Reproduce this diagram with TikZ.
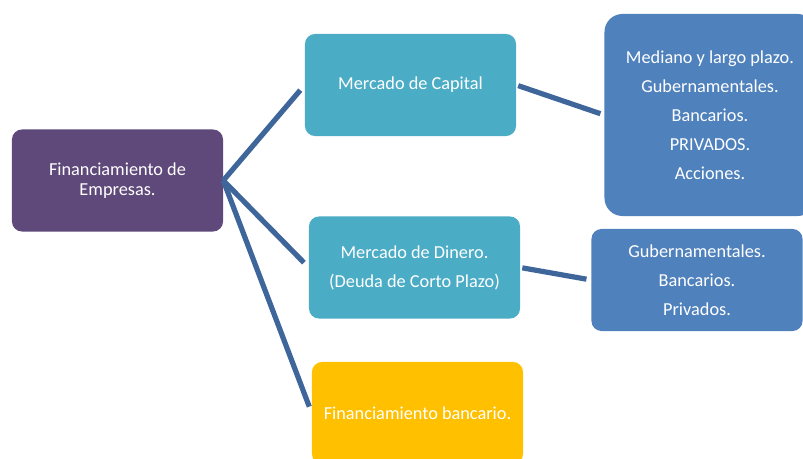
\documentclass[tikz,border=0pt]{standalone}
\usepackage{fontspec}
\setmainfont{Carlito}
\definecolor{morado}{HTML}{5F497A}
\definecolor{turquesa}{HTML}{4BACC6}
\definecolor{azul}{HTML}{4F81BD}
\definecolor{ambar}{HTML}{FFC000}
\definecolor{linea}{RGB}{62,102,155}

\tikzset{
  caja/.style={rounded corners=0.25cm, text=white, align=center,
    minimum width=5.275cm, minimum height=2.55cm, inner sep=0pt,
    font=\fontsize{13}{20.6}\selectfont},
  rama/.style={draw=linea, line width=0.13cm, shorten >=0.17cm}
}

\begin{document}
\begin{tikzpicture}[x=0.025cm, y=-0.025cm]
  \clip (0,0) rectangle (803,459);
  \fill[white] (0,0) rectangle (803,459);
  \node[caja, fill=morado, font=\fontsize{13}{14.5}\selectfont] (fin) at (117.5,180.5) {Financiamiento de\\Empresas.};
  \node[caja, fill=turquesa] (capital) at (410.5,85) {Mercado de Capital};
  \node[caja, fill=turquesa] (dinero) at (414.5,267.5) {Mercado de Dinero.\\(Deuda de Corto Plazo)};
  \node[caja, fill=ambar] (bancario) at (417.5,413) {Financiamiento bancario.};
  \node[caja, fill=azul, rounded corners=0.45cm, minimum height=5.05cm] (capdet) at (710,115)
    {Mediano y largo plazo.\\Gubernamentales.\\Bancarios.\\PRIVADOS.\\Acciones.};
  \node[caja, fill=azul] (dindet) at (697,280) {Gubernamentales.\\Bancarios.\\Privados.};
  \draw[rama] (fin.east) -- (capital.west);
  \draw[rama] (fin.east) -- (dinero.west);
  \draw[rama] (fin.east) -- (bancario.west);
  \draw[rama, shorten <=0.05cm, shorten >=0.1cm] (capital.east) -- (capdet.west);
  \draw[rama, shorten <=0.05cm, shorten >=0.12cm] (dinero.east) -- (dindet.west);
\end{tikzpicture}
\end{document}
